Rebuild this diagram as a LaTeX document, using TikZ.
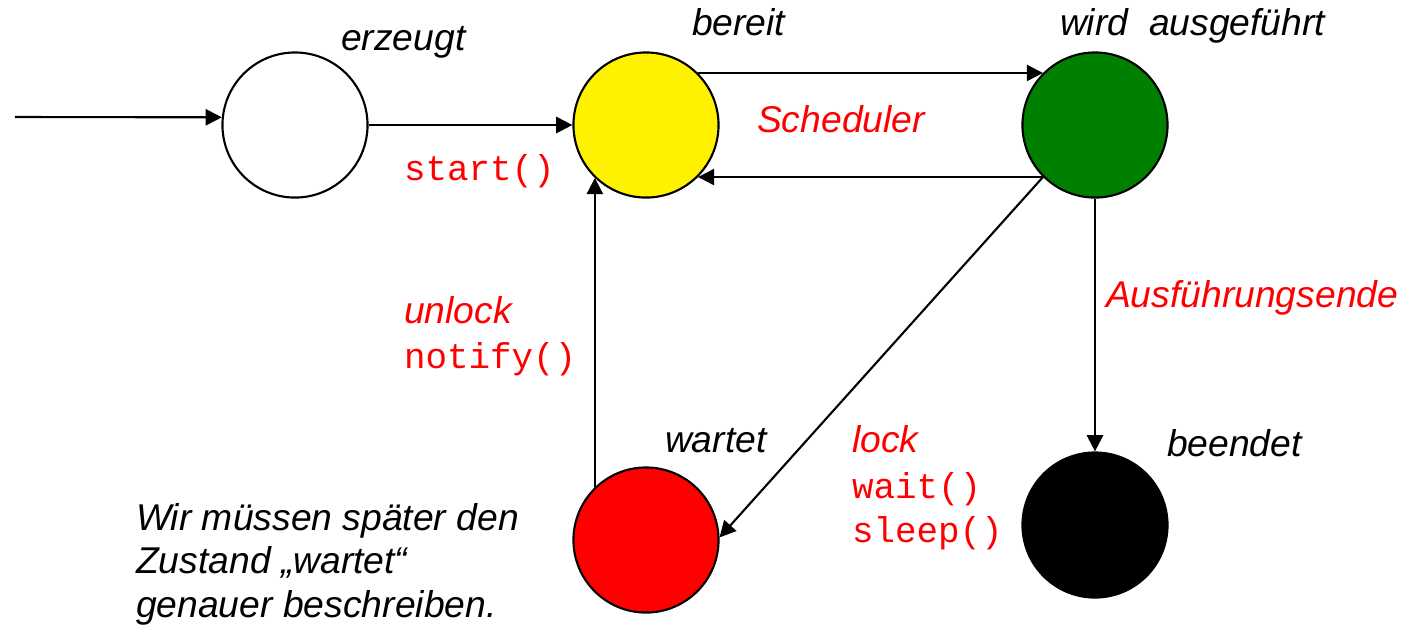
\documentclass[tikz,border=0pt]{standalone}
\usepackage{fontspec}
\setmainfont{Liberation Sans}
\setmonofont{Liberation Mono}
\usetikzlibrary{arrows.meta}

\tikzset{
  zustand/.style={circle,draw,line width=0.6pt,minimum size=1.45cm,inner sep=0pt},
  titel/.style={anchor=base west,inner sep=0pt,font=\fontsize{10.6}{12}\selectfont\itshape},
  ereignis/.style={titel,text=red},
  methode/.style={anchor=base west,inner sep=0pt,text=red,font=\fontsize{10.2}{12}\selectfont\ttfamily},
}

\begin{document}
\begin{tikzpicture}[>={Triangle[length=4.6pt,width=4.6pt]},x=0.01cm,y=-0.01cm,line width=0.6pt]
\useasboundingbox (0,0) rectangle (1405,626);
% Zustaende
\node[zustand,fill=white]  (erz)  at (295,125) {};
\node[zustand,fill=yellow] (ber)  at (646,125) {};
\node[zustand,fill={rgb,255:red,0;green,128;blue,0}] (aus) at (1095,125) {};
\node[zustand,fill=red]    (wart) at (646,540) {};
\node[zustand,fill=black]  (ende) at (1095,525) {};
\coordinate (ein) at (15,117);
% Beschriftungen
\node[titel] (lerz)  at (340,50)  {erzeugt};
\node[titel] (lber)  at (691,35)  {bereit};
\node[titel] (laus)  at (1059,35) {wird\ \ ausgeführt};
\node[titel] (lwart) at (664,452) {wartet};
\node[titel] (lende) at (1166,456) {beendet};
\node[ereignis] (sched) at (756,132) {Scheduler};
\node[methode]  (start) at (403,180) {start()};
\node[ereignis] (unlock) at (403,323) {unlock};
\node[methode]  (notify) at (403,368) {notify()};
\node[ereignis] (lock)  at (851,452) {lock};
\node[methode]  (wait)  at (851,498) {wait()};
\node[methode]  (sleep) at (851,542) {sleep()};
\node[ereignis] (fertig) at (1105,307) {Ausführungsende};
\node[titel] (hinweis1) at (135,530) {Wir müssen später den};
\node[titel] (hinweis2) at (135,573) {Zustand „wartet“};
\node[titel] (hinweis3) at (135,617) {genauer beschreiben.};
% Uebergaenge
\draw[->] (ein) -- (erz.174);
\draw[->] (erz) -- (ber);
\draw[->] (ber.45) -- (aus.135);
\draw[->] (aus.-135) -- (ber.-45);
\draw[->] (aus.-135) -- (wart.2);
\draw[->] (aus) -- (ende);
\draw[->] (wart.134) -- (ber.226);
\end{tikzpicture}
\end{document}
